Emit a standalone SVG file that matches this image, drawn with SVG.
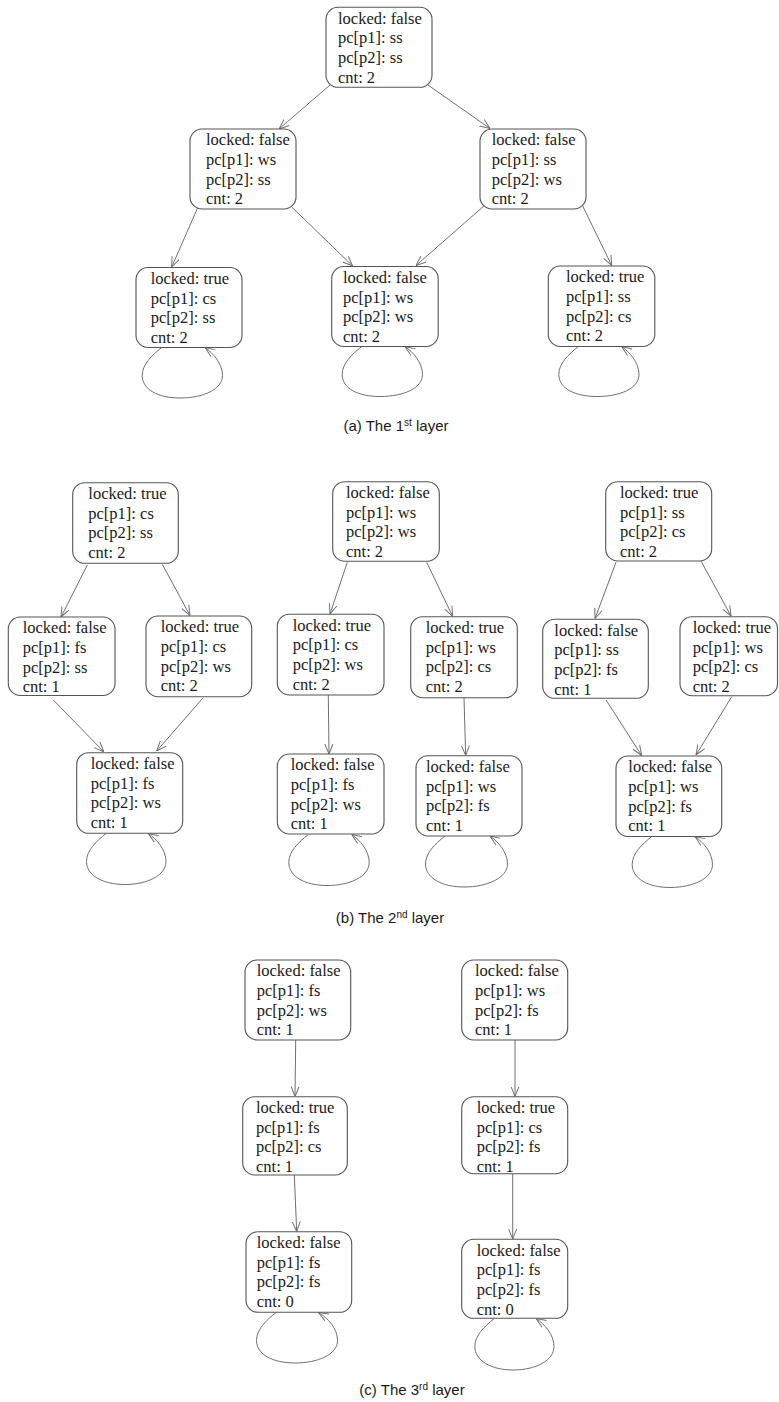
<svg xmlns="http://www.w3.org/2000/svg" width="779" height="1402" viewBox="0 0 779 1402">
  <style>
    .box { fill: #ffffff; stroke: #555555; stroke-width: 1.1; }
    .lbl { font-family: "Liberation Serif", "Times New Roman", serif; font-size: 16.5px; fill: #1a1a1a; }
    .cap { font-family: "Liberation Sans", Arial, sans-serif; font-size: 15px; fill: #1a1a1a; text-anchor: middle; }
    .edge { fill: none; stroke: #707070; stroke-width: 1; marker-end: url(#arr); }
  </style>
  <defs>
    <marker id="arr" viewBox="0 0 10 10" refX="10" refY="5" markerWidth="10" markerHeight="10" markerUnits="userSpaceOnUse" orient="auto">
      <path d="M0,1 L10,5 L0,9" fill="none" stroke="#707070" stroke-width="1"/>
    </marker>
  </defs>
  <rect width="779" height="1402" fill="#ffffff"/>

  <!-- connectors -->
  <g id="connectors">
    <!-- layer 1 -->
    <path class="edge" d="M330,85 L279,129"/>
    <path class="edge" d="M428,85 L490,128.5"/>
    <path class="edge" d="M198,207 L171.7,267"/>
    <path class="edge" d="M291.7,207 L352.7,266"/>
    <path class="edge" d="M485,205 L416,265.5"/>
    <path class="edge" d="M581.7,204 L611.7,265.5"/>
    <path class="edge" d="M161.7,347.5 C151.7,355.5 142.2,364.5 142.2,375.5 C142.2,389.5 158,398 180,398 C203,398 222.5,389.5 222.5,375.5 C222.5,363.5 213,353 205,347.5"/>
    <path class="edge" d="M361.7,346.5 C351.7,354.5 342.2,363.5 342.2,374.5 C342.2,388.5 358,396.5 380,396.5 C403,396.5 422.5,388.5 422.5,374.5 C422.5,362.5 413,352 405,346.5"/>
    <path class="edge" d="M578.3,346.5 C568.3,354.5 558.8,363.5 558.8,374.5 C558.8,388.5 575,396.5 597,396.5 C620,396.5 639,388.5 639,374.5 C639,362.5 629.5,352 621.7,346.5"/>
    <!-- layer 2 -->
    <path class="edge" d="M87.3,565 L61,617"/>
    <path class="edge" d="M162.3,564.3 L190,615.5"/>
    <path class="edge" d="M53.3,700 L104,752"/>
    <path class="edge" d="M202.7,698.3 L156.7,751"/>
    <path class="edge" d="M106,833.5 C96,841.5 86.5,850.5 86.5,861.5 C86.5,875.5 103,884.5 125,884.5 C147,884.5 166,875.5 166,861.5 C166,849.5 156.5,839 148.3,833.5"/>
    <path class="edge" d="M347.3,562.3 L330,614"/>
    <path class="edge" d="M426.7,562.3 L452.7,616.5"/>
    <path class="edge" d="M328.3,695 L329,754"/>
    <path class="edge" d="M464,697.7 L465.7,755.5"/>
    <path class="edge" d="M308.3,834.5 C298.3,842.5 288.8,851.5 288.8,862.5 C288.8,876.5 305,885.5 327,885.5 C350,885.5 369.2,876.5 369.2,862.5 C369.2,850.5 359.7,840 351.7,834.5"/>
    <path class="edge" d="M445,836 C435,844 425.5,853 425.5,864 C425.5,878 442,887 464,887 C487,887 507.5,878 507.5,864 C507.5,852 498,841.5 490,836"/>
    <path class="edge" d="M616,562.3 L595,618.5"/>
    <path class="edge" d="M701,561 L731,616"/>
    <path class="edge" d="M606,700 L641.7,755.5"/>
    <path class="edge" d="M731.7,696.7 L696,755"/>
    <path class="edge" d="M651.7,836.5 C641.7,844.5 632.2,853.5 632.2,864.5 C632.2,878.5 648,887.5 670,887.5 C693,887.5 712.5,878.5 712.5,864.5 C712.5,852.5 703,842 695,836.5"/>
    <!-- layer 3 -->
    <path class="edge" d="M295.7,1040 L295,1096.5"/>
    <path class="edge" d="M515,1040 L515,1096.5"/>
    <path class="edge" d="M294.3,1175 L296.7,1231.5"/>
    <path class="edge" d="M512.7,1173.3 L512.7,1239"/>
    <path class="edge" d="M276,1312.5 C266,1320.5 256.5,1329.5 256.5,1340.5 C256.5,1354.5 273,1363 295,1363 C318,1363 337.5,1354.5 337.5,1340.5 C337.5,1328.5 328,1318 318.3,1312.5"/>
    <path class="edge" d="M494.3,1318.5 C484.3,1326.5 474.8,1335.5 474.8,1346.5 C474.8,1360.5 491,1370 513,1370 C536,1370 554,1360.5 554,1346.5 C554,1334.5 544.5,1324 536,1318.5"/>
  </g>

  <!-- layer 1 nodes -->
  <g id="n1"><rect class="box" x="326" y="7.3" width="106" height="80" rx="12"/>
    <text class="lbl" x="338" y="23.6">locked: false</text><text class="lbl" x="338" y="43.3">pc[p1]: ss</text><text class="lbl" x="338" y="63">pc[p2]: ss</text><text class="lbl" x="338" y="82.7">cnt: 2</text></g>
  <g id="n2"><rect class="box" x="190" y="129" width="106" height="80" rx="12"/>
    <text class="lbl" x="206" y="145.3">locked: false</text><text class="lbl" x="206" y="165">pc[p1]: ws</text><text class="lbl" x="206" y="184.7">pc[p2]: ss</text><text class="lbl" x="206" y="204.4">cnt: 2</text></g>
  <g id="n3"><rect class="box" x="480" y="129" width="106" height="80" rx="12"/>
    <text class="lbl" x="491.7" y="145.3">locked: false</text><text class="lbl" x="491.7" y="165">pc[p1]: ss</text><text class="lbl" x="491.7" y="184.7">pc[p2]: ws</text><text class="lbl" x="491.7" y="204.4">cnt: 2</text></g>
  <g id="n4"><rect class="box" x="136" y="267.5" width="106" height="80" rx="12"/>
    <text class="lbl" x="150.7" y="283.8">locked: true</text><text class="lbl" x="150.7" y="303.5">pc[p1]: cs</text><text class="lbl" x="150.7" y="323.2">pc[p2]: ss</text><text class="lbl" x="150.7" y="342.9">cnt: 2</text></g>
  <g id="n5"><rect class="box" x="331.7" y="266.5" width="106.5" height="80" rx="12"/>
    <text class="lbl" x="343" y="282.8">locked: false</text><text class="lbl" x="343" y="302.5">pc[p1]: ws</text><text class="lbl" x="343" y="322.2">pc[p2]: ws</text><text class="lbl" x="343" y="341.9">cnt: 2</text></g>
  <g id="n6"><rect class="box" x="548.3" y="266" width="106.5" height="80.5" rx="12"/>
    <text class="lbl" x="566" y="282.3">locked: true</text><text class="lbl" x="566" y="302">pc[p1]: ss</text><text class="lbl" x="566" y="321.7">pc[p2]: cs</text><text class="lbl" x="566" y="341.4">cnt: 2</text></g>
  <text id="cap-a" class="cap" x="396" y="431">(a) The 1<tspan font-size="10" dy="-5">st</tspan><tspan dy="5"> layer</tspan></text>

  <!-- layer 2 nodes -->
  <g id="a1"><rect class="box" x="72.7" y="482.7" width="105.6" height="80.6" rx="12"/>
    <text class="lbl" x="88.3" y="499">locked: true</text><text class="lbl" x="88.3" y="518.7">pc[p1]: cs</text><text class="lbl" x="88.3" y="538.4">pc[p2]: ss</text><text class="lbl" x="88.3" y="558.1">cnt: 2</text></g>
  <g id="a2"><rect class="box" x="8.3" y="617" width="106.7" height="78.5" rx="12"/>
    <text class="lbl" x="22.7" y="633.3">locked: false</text><text class="lbl" x="22.7" y="653">pc[p1]: fs</text><text class="lbl" x="22.7" y="672.7">pc[p2]: ss</text><text class="lbl" x="22.7" y="692.4">cnt: 1</text></g>
  <g id="a3"><rect class="box" x="146" y="616" width="105.7" height="80.7" rx="12"/>
    <text class="lbl" x="160.7" y="632.3">locked: true</text><text class="lbl" x="160.7" y="652">pc[p1]: cs</text><text class="lbl" x="160.7" y="671.7">pc[p2]: ws</text><text class="lbl" x="160.7" y="691.4">cnt: 2</text></g>
  <g id="a4"><rect class="box" x="76.7" y="752.7" width="106" height="80.6" rx="12"/>
    <text class="lbl" x="90.7" y="769">locked: false</text><text class="lbl" x="90.7" y="788.7">pc[p1]: fs</text><text class="lbl" x="90.7" y="808.4">pc[p2]: ws</text><text class="lbl" x="90.7" y="828.1">cnt: 1</text></g>

  <g id="b1"><rect class="box" x="332.7" y="481.7" width="106.6" height="79.5" rx="12"/>
    <text class="lbl" x="346" y="498">locked: false</text><text class="lbl" x="346" y="517.7">pc[p1]: ws</text><text class="lbl" x="346" y="537.4">pc[p2]: ws</text><text class="lbl" x="346" y="557.1">cnt: 2</text></g>
  <g id="b2"><rect class="box" x="277.3" y="614.3" width="106.7" height="80.7" rx="12"/>
    <text class="lbl" x="292.7" y="630.6">locked: true</text><text class="lbl" x="292.7" y="650.3">pc[p1]: cs</text><text class="lbl" x="292.7" y="670">pc[p2]: ws</text><text class="lbl" x="292.7" y="689.7">cnt: 2</text></g>
  <g id="b3"><rect class="box" x="410.7" y="616.7" width="106.6" height="81" rx="12"/>
    <text class="lbl" x="425.7" y="633">locked: true</text><text class="lbl" x="425.7" y="652.7">pc[p1]: ws</text><text class="lbl" x="425.7" y="672.4">pc[p2]: cs</text><text class="lbl" x="425.7" y="692.1">cnt: 2</text></g>
  <g id="b4"><rect class="box" x="277.3" y="754" width="106.7" height="80" rx="12"/>
    <text class="lbl" x="290.7" y="770.3">locked: false</text><text class="lbl" x="290.7" y="790">pc[p1]: fs</text><text class="lbl" x="290.7" y="809.7">pc[p2]: ws</text><text class="lbl" x="290.7" y="829.4">cnt: 1</text></g>
  <g id="b5"><rect class="box" x="416" y="755.7" width="106" height="80.3" rx="12"/>
    <text class="lbl" x="426" y="772">locked: false</text><text class="lbl" x="426" y="791.7">pc[p1]: ws</text><text class="lbl" x="426" y="811.4">pc[p2]: fs</text><text class="lbl" x="426" y="831.1">cnt: 1</text></g>

  <g id="c1"><rect class="box" x="605.7" y="481.7" width="106" height="79.3" rx="12"/>
    <text class="lbl" x="620" y="498">locked: true</text><text class="lbl" x="620" y="517.7">pc[p1]: ss</text><text class="lbl" x="620" y="537.4">pc[p2]: cs</text><text class="lbl" x="620" y="557.1">cnt: 2</text></g>
  <g id="c2"><rect class="box" x="542.7" y="619.3" width="105.6" height="79" rx="12"/>
    <text class="lbl" x="554.3" y="635.6">locked: false</text><text class="lbl" x="554.3" y="655.3">pc[p1]: ss</text><text class="lbl" x="554.3" y="675">pc[p2]: fs</text><text class="lbl" x="554.3" y="694.7">cnt: 1</text></g>
  <g id="c3"><rect class="box" x="680" y="616.7" width="97.5" height="79" rx="12"/>
    <text class="lbl" x="692.7" y="633">locked: true</text><text class="lbl" x="692.7" y="652.7">pc[p1]: ws</text><text class="lbl" x="692.7" y="672.4">pc[p2]: cs</text><text class="lbl" x="692.7" y="692.1">cnt: 2</text></g>
  <g id="c4"><rect class="box" x="616" y="756" width="105.7" height="80.5" rx="12"/>
    <text class="lbl" x="628.3" y="772.3">locked: false</text><text class="lbl" x="628.3" y="792">pc[p1]: ws</text><text class="lbl" x="628.3" y="811.7">pc[p2]: fs</text><text class="lbl" x="628.3" y="831.4">cnt: 1</text></g>
  <text id="cap-b" class="cap" x="390" y="923">(b) The 2<tspan font-size="10" dy="-5">nd</tspan><tspan dy="5"> layer</tspan></text>

  <!-- layer 3 nodes -->
  <g id="d1"><rect class="box" x="245" y="960" width="105.7" height="80" rx="12"/>
    <text class="lbl" x="256.7" y="976.3">locked: false</text><text class="lbl" x="256.7" y="996">pc[p1]: fs</text><text class="lbl" x="256.7" y="1015.7">pc[p2]: ws</text><text class="lbl" x="256.7" y="1035.4">cnt: 1</text></g>
  <g id="d2"><rect class="box" x="461.7" y="960" width="106" height="80" rx="12"/>
    <text class="lbl" x="475" y="976.3">locked: false</text><text class="lbl" x="475" y="996">pc[p1]: ws</text><text class="lbl" x="475" y="1015.7">pc[p2]: fs</text><text class="lbl" x="475" y="1035.4">cnt: 1</text></g>
  <g id="d3"><rect class="box" x="242.7" y="1096.7" width="104.6" height="78.3" rx="12"/>
    <text class="lbl" x="256" y="1113">locked: true</text><text class="lbl" x="256" y="1132.7">pc[p1]: fs</text><text class="lbl" x="256" y="1152.4">pc[p2]: cs</text><text class="lbl" x="256" y="1172.1">cnt: 1</text></g>
  <g id="d4"><rect class="box" x="461.7" y="1096.7" width="106" height="77" rx="12"/>
    <text class="lbl" x="476.7" y="1113">locked: true</text><text class="lbl" x="476.7" y="1132.7">pc[p1]: cs</text><text class="lbl" x="476.7" y="1152.4">pc[p2]: fs</text><text class="lbl" x="476.7" y="1172.1">cnt: 1</text></g>
  <g id="d5"><rect class="box" x="246" y="1231.7" width="105.7" height="80.6" rx="12"/>
    <text class="lbl" x="256.7" y="1248">locked: false</text><text class="lbl" x="256.7" y="1267.7">pc[p1]: fs</text><text class="lbl" x="256.7" y="1287.4">pc[p2]: fs</text><text class="lbl" x="256.7" y="1307.1">cnt: 0</text></g>
  <g id="d6"><rect class="box" x="461.7" y="1239.3" width="106" height="79" rx="12"/>
    <text class="lbl" x="476.7" y="1255.6">locked: false</text><text class="lbl" x="476.7" y="1275.3">pc[p1]: fs</text><text class="lbl" x="476.7" y="1295">pc[p2]: fs</text><text class="lbl" x="476.7" y="1314.7">cnt: 0</text></g>
  <text id="cap-c" class="cap" x="412" y="1395">(c) The 3<tspan font-size="10" dy="-5">rd</tspan><tspan dy="5"> layer</tspan></text>
</svg>
